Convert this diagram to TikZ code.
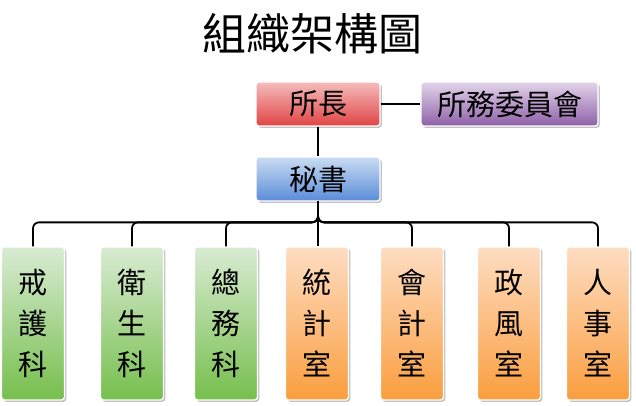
\documentclass[tikz,border=0pt]{standalone}
\usepackage{fontspec}
\newfontfamily\cjk{Noto Sans CJK TC}
\usetikzlibrary{shadows}
\definecolor{redT}{HTML}{F5BCBC}\definecolor{redB}{HTML}{E04444}
\definecolor{purT}{HTML}{E2D4EA}\definecolor{purB}{HTML}{8E60A8}
\definecolor{bluT}{HTML}{CADCF2}\definecolor{bluB}{HTML}{5A8CD8}
\definecolor{grnT}{HTML}{D8EBD2}\definecolor{grnB}{HTML}{76BF4C}
\definecolor{orgT}{HTML}{FEDDC2}\definecolor{orgB}{HTML}{FA9E3E}
\tikzset{
  box/.style={draw=white, line width=1.3pt, rounded corners=3pt,
    drop shadow={shadow xshift=1.8pt, shadow yshift=-1.8pt, opacity=0.4, fill=black!60},
    inner sep=0pt, font=\cjk\fontsize{29}{41}\selectfont, align=center},
  hbox/.style={box, minimum height=44pt},
  vbox/.style={box, minimum width=63pt, minimum height=153pt},
  redbox/.style={top color=redT, bottom color=redB},
  purbox/.style={top color=purT, bottom color=purB},
  blubox/.style={top color=bluT, bottom color=bluB},
  grnbox/.style={top color=grnT, bottom color=grnB},
  orgbox/.style={top color=orgT, bottom color=orgB},
  conn/.style={line width=1.8pt, black},
}
\begin{document}
\begin{tikzpicture}[x=1pt,y=-1pt]
\useasboundingbox (0,0) rectangle (636,406);
\node[font=\cjk\fontsize{44}{48}\selectfont] (title) at (312,34) {組織架構圖};
\node[hbox, redbox, minimum width=124pt] (suozhang) at (318,104) {所長};
\node[hbox, purbox, minimum width=177pt] (weiyuan) at (509.5,104) {所務委員會};
\node[hbox, blubox, minimum width=124pt] (mishu) at (318,179) {秘書};
\node[vbox, grnbox] (b1) at (33,323.5) {戒\\護\\科};
\node[vbox, grnbox] (b2) at (132,323.5) {衛\\生\\科};
\node[vbox, grnbox] (b3) at (226,323.5) {總\\務\\科};
\node[vbox, orgbox] (b4) at (317,323.5) {統\\計\\室};
\node[vbox, orgbox] (b5) at (412,323.5) {會\\計\\室};
\node[vbox, orgbox] (b6) at (509,323.5) {政\\風\\室};
\node[vbox, orgbox] (b7) at (598,323.5) {人\\事\\室};
\draw[conn] (suozhang.east) -- (weiyuan.west);
\draw[conn] (suozhang.south) -- (mishu.north);
\draw[conn] (mishu.south) -- (mishu.south |- b4.north);
\foreach \b in {b1,b2,b3,b5,b6,b7}{
  \draw[conn, rounded corners=6pt] (mishu.south) |- ([yshift=24pt]\b.north) -- (\b.north);
}
\end{tikzpicture}
\end{document}
